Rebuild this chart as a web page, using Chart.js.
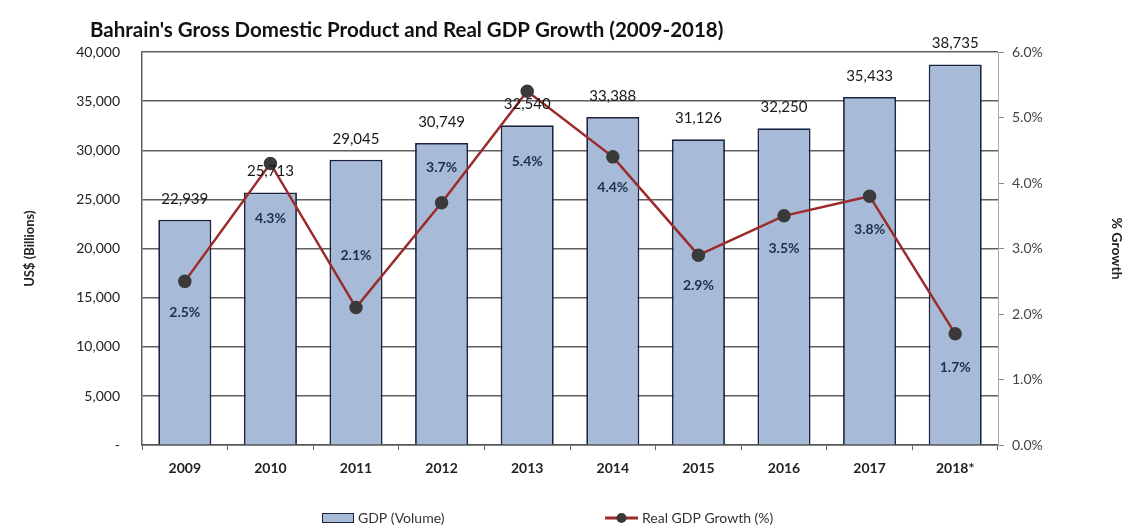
<!DOCTYPE html>
<html>
<head>
<meta charset="utf-8">
<script src="https://cdn.jsdelivr.net/npm/chart.js@4.4.1/dist/chart.umd.min.js"></script>
<style>
  html, body { margin: 0; padding: 0; background: #ffffff; }
  #wrap { width: 1133px; height: 526px; }
</style>
</head>
<body>
<div id="wrap"><canvas id="c" width="1133" height="526"></canvas></div>
<script>
// ---- data ----
const years = ['2009', '2010', '2011', '2012', '2013', '2014', '2015', '2016', '2017', '2018*'];
const gdpVolume = [22939, 25713, 29045, 30749, 32540, 33388, 31126, 32250, 35433, 38735];
const realGrowth = [2.5, 4.3, 2.1, 3.7, 5.4, 4.4, 2.9, 3.5, 3.8, 1.7];
const leftTicks = [0, 5000, 10000, 15000, 20000, 25000, 30000, 35000, 40000];
const rightTicks = [0, 1, 2, 3, 4, 5, 6];

// ---- styles ----
const FONT = 'Lato, "Open Sans", "Noto Sans", sans-serif';
const barFill = '#a7bbd8';
const barEdge = '#1a2442';
const lineRed = '#9c2b2b';
const dotGrey = '#3a3a3a';
const growthLabelOffsets = [31, 55, -52, -35, 70, 31, 30, 33, 33, 34];

const labelPlugin = {
  id: 'labels',
  afterDatasetsDraw(chart) {
    const ctx = chart.ctx;
    ctx.save();
    ctx.textAlign = 'center';
    ctx.textBaseline = 'middle';
    const barMeta = chart.getDatasetMeta(0);
    ctx.font = '15px ' + FONT;
    ctx.fillStyle = '#1a1a1a';
    barMeta.data.forEach((el, i) => {
      ctx.fillText(gdpVolume[i].toLocaleString('en-US'), el.x, el.y - 21);
    });
    const lineMeta = chart.getDatasetMeta(1);
    ctx.font = 'bold 14px ' + FONT;
    ctx.fillStyle = '#1e2f50';
    lineMeta.data.forEach((el, i) => {
      ctx.fillText(realGrowth[i].toFixed(1) + '%', el.x, el.y + growthLabelOffsets[i]);
    });
    ctx.restore();
  },
  afterDraw(chart) {
    const ctx = chart.ctx;
    ctx.save();
    // title
    ctx.font = 'bold 20.5px ' + FONT;
    ctx.fillStyle = '#111';
    ctx.textAlign = 'left';
    ctx.textBaseline = 'middle';
    ctx.fillText("Bahrain's Gross Domestic Product and Real GDP Growth (2009-2018)", 90, 30);
    // legend
    const ly = 518;
    ctx.fillStyle = barFill;
    ctx.fillRect(322, ly - 5, 32, 10);
    ctx.strokeStyle = barEdge;
    ctx.lineWidth = 1;
    ctx.strokeRect(322.5, ly - 4.5, 31, 9);
    ctx.font = '14px ' + FONT;
    ctx.fillStyle = '#333';
    ctx.fillText('GDP (Volume)', 358, ly);
    ctx.strokeStyle = lineRed;
    ctx.lineWidth = 3;
    ctx.beginPath();
    ctx.moveTo(605, ly);
    ctx.lineTo(638, ly);
    ctx.stroke();
    ctx.fillStyle = dotGrey;
    ctx.beginPath();
    ctx.arc(621.5, ly, 5, 0, Math.PI * 2);
    ctx.fill();
    ctx.fillStyle = '#333';
    ctx.fillText('Real GDP Growth (%)', 642, ly);
    ctx.restore();
  }
};

new Chart(document.getElementById('c'), {
  data: {
    labels: years,
    datasets: [
      {
        type: 'bar',
        label: 'GDP (Volume)',
        data: gdpVolume,
        yAxisID: 'y',
        backgroundColor: barFill,
        borderColor: barEdge,
        borderWidth: 1.8,
        categoryPercentage: 1.0,
        barPercentage: 0.62,
        order: 2
      },
      {
        type: 'line',
        label: 'Real GDP Growth (%)',
        data: realGrowth,
        yAxisID: 'y1',
        borderColor: lineRed,
        borderWidth: 2.5,
        pointBackgroundColor: dotGrey,
        pointBorderColor: dotGrey,
        pointRadius: 5.5,
        tension: 0,
        order: 1
      }
    ]
  },
  options: {
    responsive: false,
    animation: false,
    layout: { padding: { top: 52, bottom: 39, left: 22, right: 8 } },
    plugins: {
      legend: { display: false },
      title: { display: false },
      tooltip: { enabled: false }
    },
    scales: {
      x: {
        offset: true,
        grid: { display: true, offset: true, drawOnChartArea: false, tickLength: 5, color: '#666' },
        border: { color: '#555', width: 1.5 },
        ticks: { font: { family: FONT, size: 14, weight: 'bold' }, color: '#222', padding: 10, maxRotation: 0 }
      },
      y: {
        position: 'left',
        min: 0,
        max: 40000,
        afterBuildTicks(scale) { scale.ticks = leftTicks.map(v => ({ value: v })); },
        afterFit(scale) { scale.width = 120; },
        grid: { color: '#5f5f5f', lineWidth: 1.5, drawTicks: false },
        border: { color: '#5f5f5f', width: 1.5 },
        ticks: {
          font: { family: FONT, size: 14 }, color: '#222', padding: 22,
          callback: v => v === 0 ? '-' : v.toLocaleString('en-US')
        },
        title: { display: true, text: 'US$ (Billions)', font: { family: FONT, size: 13, weight: 'bold' }, color: '#222', padding: { top: 0, bottom: 0 } }
      },
      y1: {
        position: 'right',
        min: 0,
        max: 6,
        afterBuildTicks(scale) { scale.ticks = rightTicks.map(v => ({ value: v })); },
        afterFit(scale) { scale.width = 127; },
        grid: { drawOnChartArea: false, tickLength: 6, color: '#888' },
        border: { color: '#aaa', width: 1, dash: [3, 2] },
        ticks: {
          font: { family: FONT, size: 14 }, color: '#444', padding: 8,
          callback: v => v.toFixed(1) + '%'
        },
        title: { display: true, text: '% Growth', font: { family: FONT, size: 14, weight: 'bold' }, color: '#222', padding: { top: 0, bottom: 0 } }
      }
    }
  },
  plugins: [labelPlugin]
});
</script>
</body>
</html>
